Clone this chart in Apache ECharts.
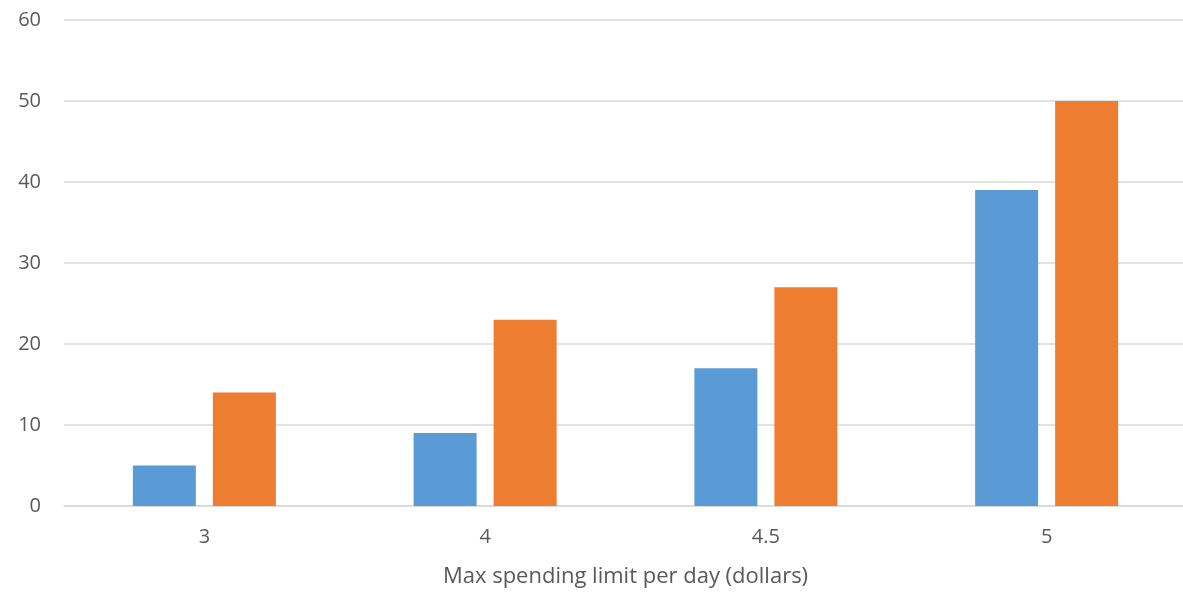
<!DOCTYPE html>
<html>
<head>
<meta charset="utf-8">
<script src="https://cdn.jsdelivr.net/npm/echarts@6/dist/echarts.min.js"></script>
<style>
  html, body { margin: 0; padding: 0; background: #fff; overflow: hidden; }
  #wrap { width: 1183px; height: 593px; overflow: hidden; }
  /* the plot runs a few pixels past the right edge of the page */
  #chart { width: 1187px; height: 593px; }
</style>
</head>
<body>
<div id="wrap"><div id="chart"></div></div>
<script>
// Spending limits on the category axis
const categories = ['3', '4', '4.5', '5'];
// Two series of counts per spending limit
const seriesBlue = [5, 9, 17, 39];
const seriesOrange = [14, 23, 27, 50];
// Value axis range
const yMin = 0;
const yMax = 60;
const yStep = 10;

const textColor = '#595959';
const fontFamily = '"Open Sans", "Liberation Sans", sans-serif';

const chart = echarts.init(document.getElementById('chart'), null, { renderer: 'canvas' });
chart.setOption({
  animation: false,
  backgroundColor: '#ffffff',
  grid: { left: 64, top: 20, right: 0, bottom: 87, containLabel: false },
  xAxis: {
    type: 'category',
    data: categories,
    name: 'Max spending limit per day (dollars)',
    nameLocation: 'middle',
    nameGap: 60,
    nameTextStyle: { color: textColor, fontSize: 22, fontFamily: fontFamily },
    axisLine: { show: true, lineStyle: { color: '#d9d9d9', width: 1.5 } },
    axisTick: { show: false },
    axisLabel: { color: textColor, fontSize: 20, fontFamily: fontFamily, margin: 21 }
  },
  yAxis: {
    type: 'value',
    min: yMin,
    max: yMax,
    interval: yStep,
    axisLine: { show: false },
    axisTick: { show: false },
    axisLabel: { color: textColor, fontSize: 20, fontFamily: fontFamily, margin: 23 },
    splitLine: { lineStyle: { color: '#d9d9d9', width: 1.5 } }
  },
  series: [
    {
      type: 'bar',
      data: seriesBlue,
      barWidth: 63,
      barGap: '27%',
      itemStyle: { color: '#5b9bd5' }
    },
    {
      type: 'bar',
      data: seriesOrange,
      barWidth: 63,
      barGap: '27%',
      itemStyle: { color: '#ed7d31' }
    }
  ]
});
</script>
</body>
</html>
